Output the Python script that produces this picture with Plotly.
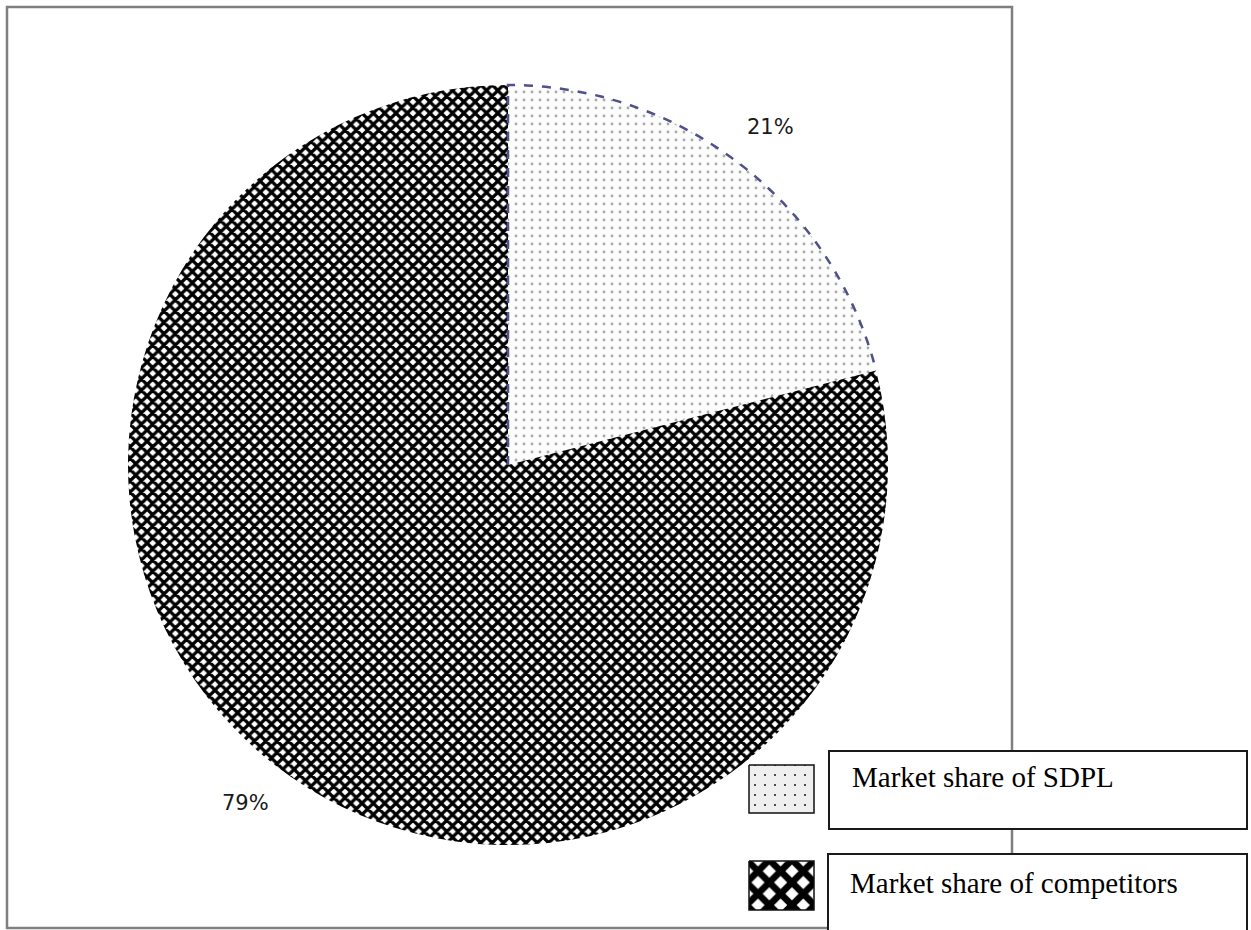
import math
import plotly.graph_objects as go

# Market share split
categories = ["Market share of SDPL", "Market share of competitors"]
shares = [21, 79]

W, H = 1251, 930
CX, CY, R = 508, 465, 380          # pie centre and radius (px)
LABEL_R = 428                       # radius for the percentage labels (px)

fig = go.Figure()

# Pie with texture fills
fig.add_trace(go.Pie(
    labels=categories,
    values=shares,
    sort=False,
    direction="clockwise",
    rotation=0,
    textinfo="none",
    hoverinfo="label+percent",
    showlegend=False,
    domain=dict(x=[(CX - R) / W, (CX + R) / W],
                y=[(H - CY - R) / H, (H - CY + R) / H]),
    marker=dict(
        colors=["#fbfbfb", "#ffffff"],
        line=dict(width=0),
        pattern=dict(
            shape=[".", "x"],
            fgcolor=["#aaaaaa", "#000000"],
            bgcolor=["#fcfcfc", "#ffffff"],
            fgopacity=1,
            size=[8, 8],
            solidity=[0.1, 0.64],
        ),
    ),
))

# Angles of slice boundaries, measured clockwise from 12 o'clock
total = sum(shares)
bounds = [0.0]
for v in shares:
    bounds.append(bounds[-1] + 360.0 * v / total)


def pt(angle_deg, r):
    a = math.radians(angle_deg)
    return CX + r * math.sin(a), CY - r * math.cos(a)


# Dashed outline of the first slice (radius from centre + outer arc)
steps = 80
arc = [pt(bounds[0] + (bounds[1] - bounds[0]) * i / steps, R) for i in range(steps + 1)]
path = f"M{CX},{CY} " + " ".join(f"L{x:.2f},{y:.2f}" for x, y in arc)

shapes = [
    # outer frame
    dict(type="rect", xref="x", yref="y", x0=7, y0=7, x1=1012, y1=928,
         line=dict(color="#7f7f7f", width=2.5), fillcolor="rgba(0,0,0,0)", layer="below"),
    dict(type="path", xref="x", yref="y", path=path,
         line=dict(color="#50508c", width=2.5, dash="dash"), layer="above"),
    # legend text boxes
    dict(type="rect", xref="x", yref="y", x0=829, y0=751, x1=1247, y1=829,
         line=dict(color="#1a1a1a", width=2), fillcolor="white", layer="above"),
    dict(type="rect", xref="x", yref="y", x0=828, y0=854, x1=1247, y1=940,
         line=dict(color="#1a1a1a", width=2), fillcolor="white", layer="above"),
]

# Percentage labels placed outside each slice
annotations = []
for i, v in enumerate(shares):
    mid = (bounds[i] + bounds[i + 1]) / 2
    lx, ly = pt(mid, LABEL_R)
    annotations.append(dict(x=lx, y=ly, xref="x", yref="y", text=f"{v}%",
                            showarrow=False, xanchor="center", yanchor="middle",
                            font=dict(family="DejaVu Sans", size=21, color="#1a1a1a")))

# Legend swatches with matching textures
swatches = [
    dict(x0=749, y0=765, x1=814, y1=813, shape=".", fg="#111111", bg="#efefef", size=10, sol=0.03),
    dict(x0=749, y0=861, x1=814, y1=910, shape="x", fg="#000000", bg="#ffffff", size=16, sol=0.66),
]
for s in swatches:
    fig.add_trace(go.Scatter(
        x=[s["x0"], s["x1"], s["x1"], s["x0"], s["x0"]],
        y=[s["y0"], s["y0"], s["y1"], s["y1"], s["y0"]],
        mode="lines", fill="toself", fillcolor=s["bg"],
        fillpattern=dict(shape=s["shape"], fgcolor=s["fg"], bgcolor=s["bg"], fgopacity=1,
                         size=s["size"], solidity=s["sol"]),
        line=dict(color="#111111", width=1.5),
        hoverinfo="skip", showlegend=False,
    ))

legend_text_pos = [(850, 777), (848, 883)]
for name, (tx, ty) in zip(categories, legend_text_pos):
    annotations.append(dict(x=tx, y=ty, xref="x", yref="y", text=name, showarrow=False,
                            xanchor="left", yanchor="middle",
                            font=dict(family="Liberation Serif", size=29, color="#000000")))

fig.update_layout(
    width=W, height=H,
    margin=dict(l=0, r=0, t=0, b=0),
    paper_bgcolor="white", plot_bgcolor="rgba(0,0,0,0)",
    xaxis=dict(range=[0, W], visible=False, domain=[0, 1], fixedrange=True),
    yaxis=dict(range=[H, 0], visible=False, domain=[0, 1], fixedrange=True),
    shapes=shapes,
    annotations=annotations,
    showlegend=False,
)

fig.write_html("out.html")
